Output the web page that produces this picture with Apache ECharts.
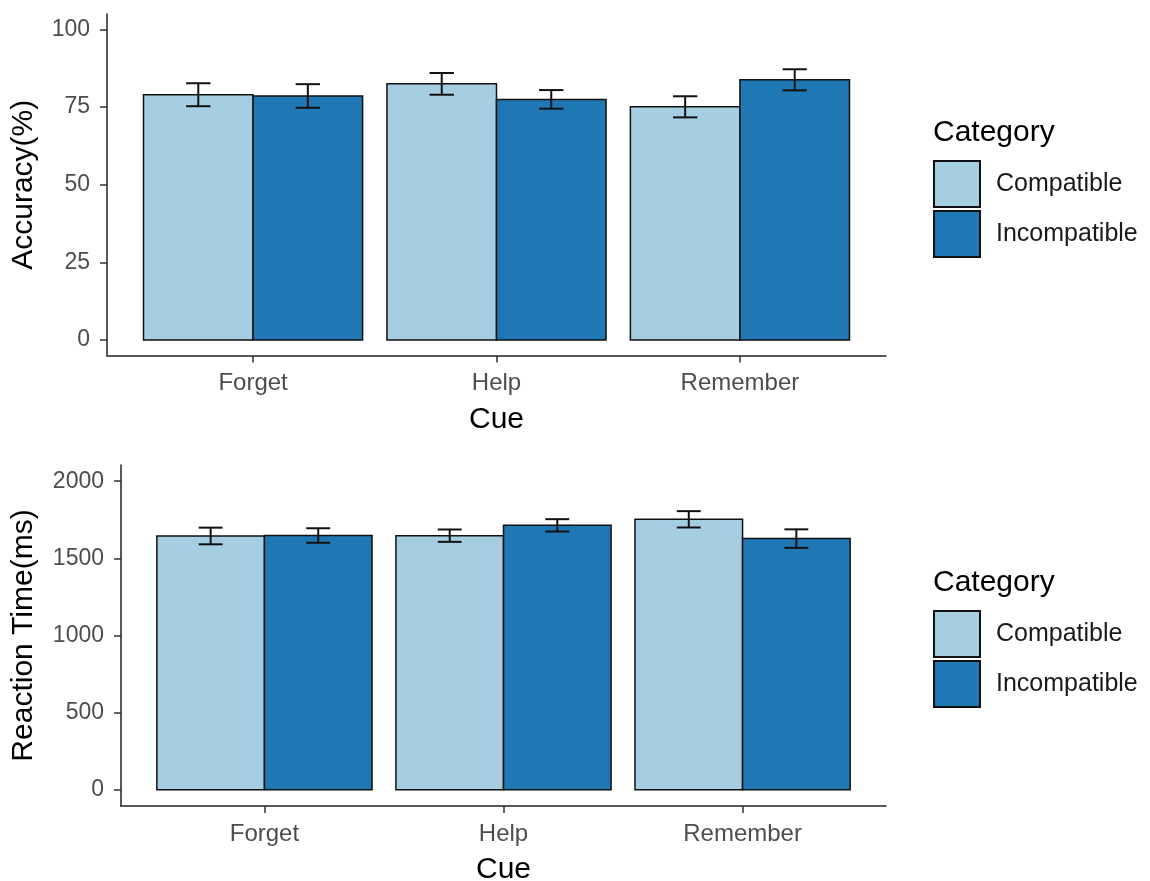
<!DOCTYPE html>
<html>
<head>
<meta charset="utf-8">
<script src="https://cdn.jsdelivr.net/npm/echarts@6/dist/echarts.min.js"></script>
<style>
  html, body { margin: 0; padding: 0; background: #fff; }
  #chart { width: 1150px; height: 881px; }
</style>
</head>
<body>
<div id="chart"></div>
<script>
const cues = ['Forget', 'Help', 'Remember'];
const categories = ['Compatible', 'Incompatible'];

// accuracy (%) means and error half-widths
const accCompatible = [79.0, 82.5, 75.1];
const accCompatibleErr = [3.7, 3.5, 3.4];
const accIncompatible = [78.6, 77.5, 83.8];
const accIncompatibleErr = [3.8, 3.0, 3.4];

// reaction time (ms)
const rtCompatible = [1645, 1647, 1753];
const rtCompatibleErr = [54, 40, 53];
const rtIncompatible = [1648, 1714, 1628];
const rtIncompatibleErr = [47, 40, 60];

const accTicks = [0, 25, 50, 75, 100];
const rtTicks = [0, 500, 1000, 1500, 2000];

const colors = ['#A6CEE3', '#1F78B4'];
const FONT = 'Liberation Sans, Arial, sans-serif';

let chart = echarts.init(document.getElementById('chart'));

function toData(vals, errs) {
  return vals.map((v, i) => [i + 1, v, errs[i]]);
}

// dodge: compatible sits left of the cue, incompatible right
function barRenderer(left, color) {
  return function (params, api) {
    let x = api.value(0), v = api.value(1), se = api.value(2);
    let x0 = left ? x - 0.45 : x;
    let p0 = api.coord([x0, v]);
    let p1 = api.coord([x0 + 0.45, 0]);
    let cx = x0 + 0.225;
    let top = api.coord([cx, v + se]);
    let bot = api.coord([cx, v - se]);
    let half = api.size([0.05, 0])[0];
    let line = { stroke: '#111', lineWidth: 2 };
    return {
      type: 'group',
      children: [
        { type: 'rect', shape: { x: p0[0], y: p0[1], width: p1[0] - p0[0], height: p1[1] - p0[1] },
          style: { fill: color, stroke: '#111', lineWidth: 1.5 } },
        { type: 'line', shape: { x1: top[0], y1: top[1], x2: bot[0], y2: bot[1] }, style: line },
        { type: 'line', shape: { x1: top[0] - half, y1: top[1], x2: top[0] + half, y2: top[1] }, style: line },
        { type: 'line', shape: { x1: bot[0] - half, y1: bot[1], x2: bot[0] + half, y2: bot[1] }, style: line }
      ]
    };
  };
}

function xAxisFor(gridIndex) {
  return {
    type: 'value', gridIndex: gridIndex, min: 0.4, max: 3.6,
    name: 'Cue', nameLocation: 'middle', nameGap: 49,
    nameTextStyle: { color: '#000', fontSize: 30, fontFamily: FONT },
    splitLine: { show: false },
    axisLine: { onZero: false, lineStyle: { color: '#222', width: 1.5 } },
    axisTick: { customValues: [1, 2, 3], length: 7, lineStyle: { color: '#333', width: 1.5 } },
    axisLabel: {
      customValues: [1, 2, 3], margin: 16, color: '#4D4D4D', fontSize: 24, fontFamily: FONT,
      formatter: (v) => cues[Math.round(v) - 1]
    }
  };
}

function yAxisFor(gridIndex, name, min, max, ticks, gap) {
  return {
    type: 'value', gridIndex: gridIndex, min: min, max: max,
    name: name, nameLocation: 'middle', nameGap: gap,
    nameTextStyle: { color: '#000', fontSize: 30, fontFamily: FONT },
    splitLine: { show: false },
    axisLine: { show: true, onZero: false, lineStyle: { color: '#222', width: 1.5 } },
    axisTick: { show: true, customValues: ticks, length: 7, lineStyle: { color: '#333', width: 1.5 } },
    axisLabel: {
      customValues: ticks, margin: 17, color: '#4D4D4D', fontSize: 23, fontFamily: FONT,
      formatter: (v) => String(v)
    }
  };
}

function legendFor(top) {
  return {
    orient: 'vertical', left: 933, top: top, padding: 0,
    itemWidth: 46, itemHeight: 46, itemGap: 2,
    selectedMode: false,
    textStyle: { color: '#1a1a1a', fontSize: 25, fontFamily: FONT, padding: [0, 0, 0, 11] },
    data: categories.map((c, i) => ({
      name: c, icon: 'rect',
      itemStyle: { color: colors[i], borderColor: '#111', borderWidth: 2 }
    }))
  };
}

function legendTitle(top) {
  return {
    text: 'Category', left: 933, top: top, padding: 0,
    textStyle: { color: '#000', fontSize: 30, fontWeight: 'normal', fontFamily: FONT }
  };
}

let option = {
  backgroundColor: '#fff',
  animation: false,
  title: [legendTitle(118), legendTitle(568)],
  legend: [legendFor(160), legendFor(610)],
  grid: [
    { left: 107, right: 264, top: 14, height: 341.5, outerBoundsMode: 'none' },
    { left: 121, right: 264, top: 465, height: 341, outerBoundsMode: 'none' }
  ],
  xAxis: [xAxisFor(0), xAxisFor(1)],
  yAxis: [
    yAxisFor(0, 'Accuracy(%)', -5, 105, accTicks, 68),
    yAxisFor(1, 'Reaction Time(ms)', -105, 2105, rtTicks, 82)
  ],
  series: [
    { name: 'Compatible', type: 'custom', xAxisIndex: 0, yAxisIndex: 0, encode: { x: 0, y: 1 },
      itemStyle: { color: colors[0] }, renderItem: barRenderer(true, colors[0]),
      data: toData(accCompatible, accCompatibleErr) },
    { name: 'Incompatible', type: 'custom', xAxisIndex: 0, yAxisIndex: 0, encode: { x: 0, y: 1 },
      itemStyle: { color: colors[1] }, renderItem: barRenderer(false, colors[1]),
      data: toData(accIncompatible, accIncompatibleErr) },
    { name: 'Compatible', type: 'custom', xAxisIndex: 1, yAxisIndex: 1, encode: { x: 0, y: 1 },
      itemStyle: { color: colors[0] }, renderItem: barRenderer(true, colors[0]),
      data: toData(rtCompatible, rtCompatibleErr) },
    { name: 'Incompatible', type: 'custom', xAxisIndex: 1, yAxisIndex: 1, encode: { x: 0, y: 1 },
      itemStyle: { color: colors[1] }, renderItem: barRenderer(false, colors[1]),
      data: toData(rtIncompatible, rtIncompatibleErr) }
  ]
};

option && chart.setOption(option);
</script>
</body>
</html>
